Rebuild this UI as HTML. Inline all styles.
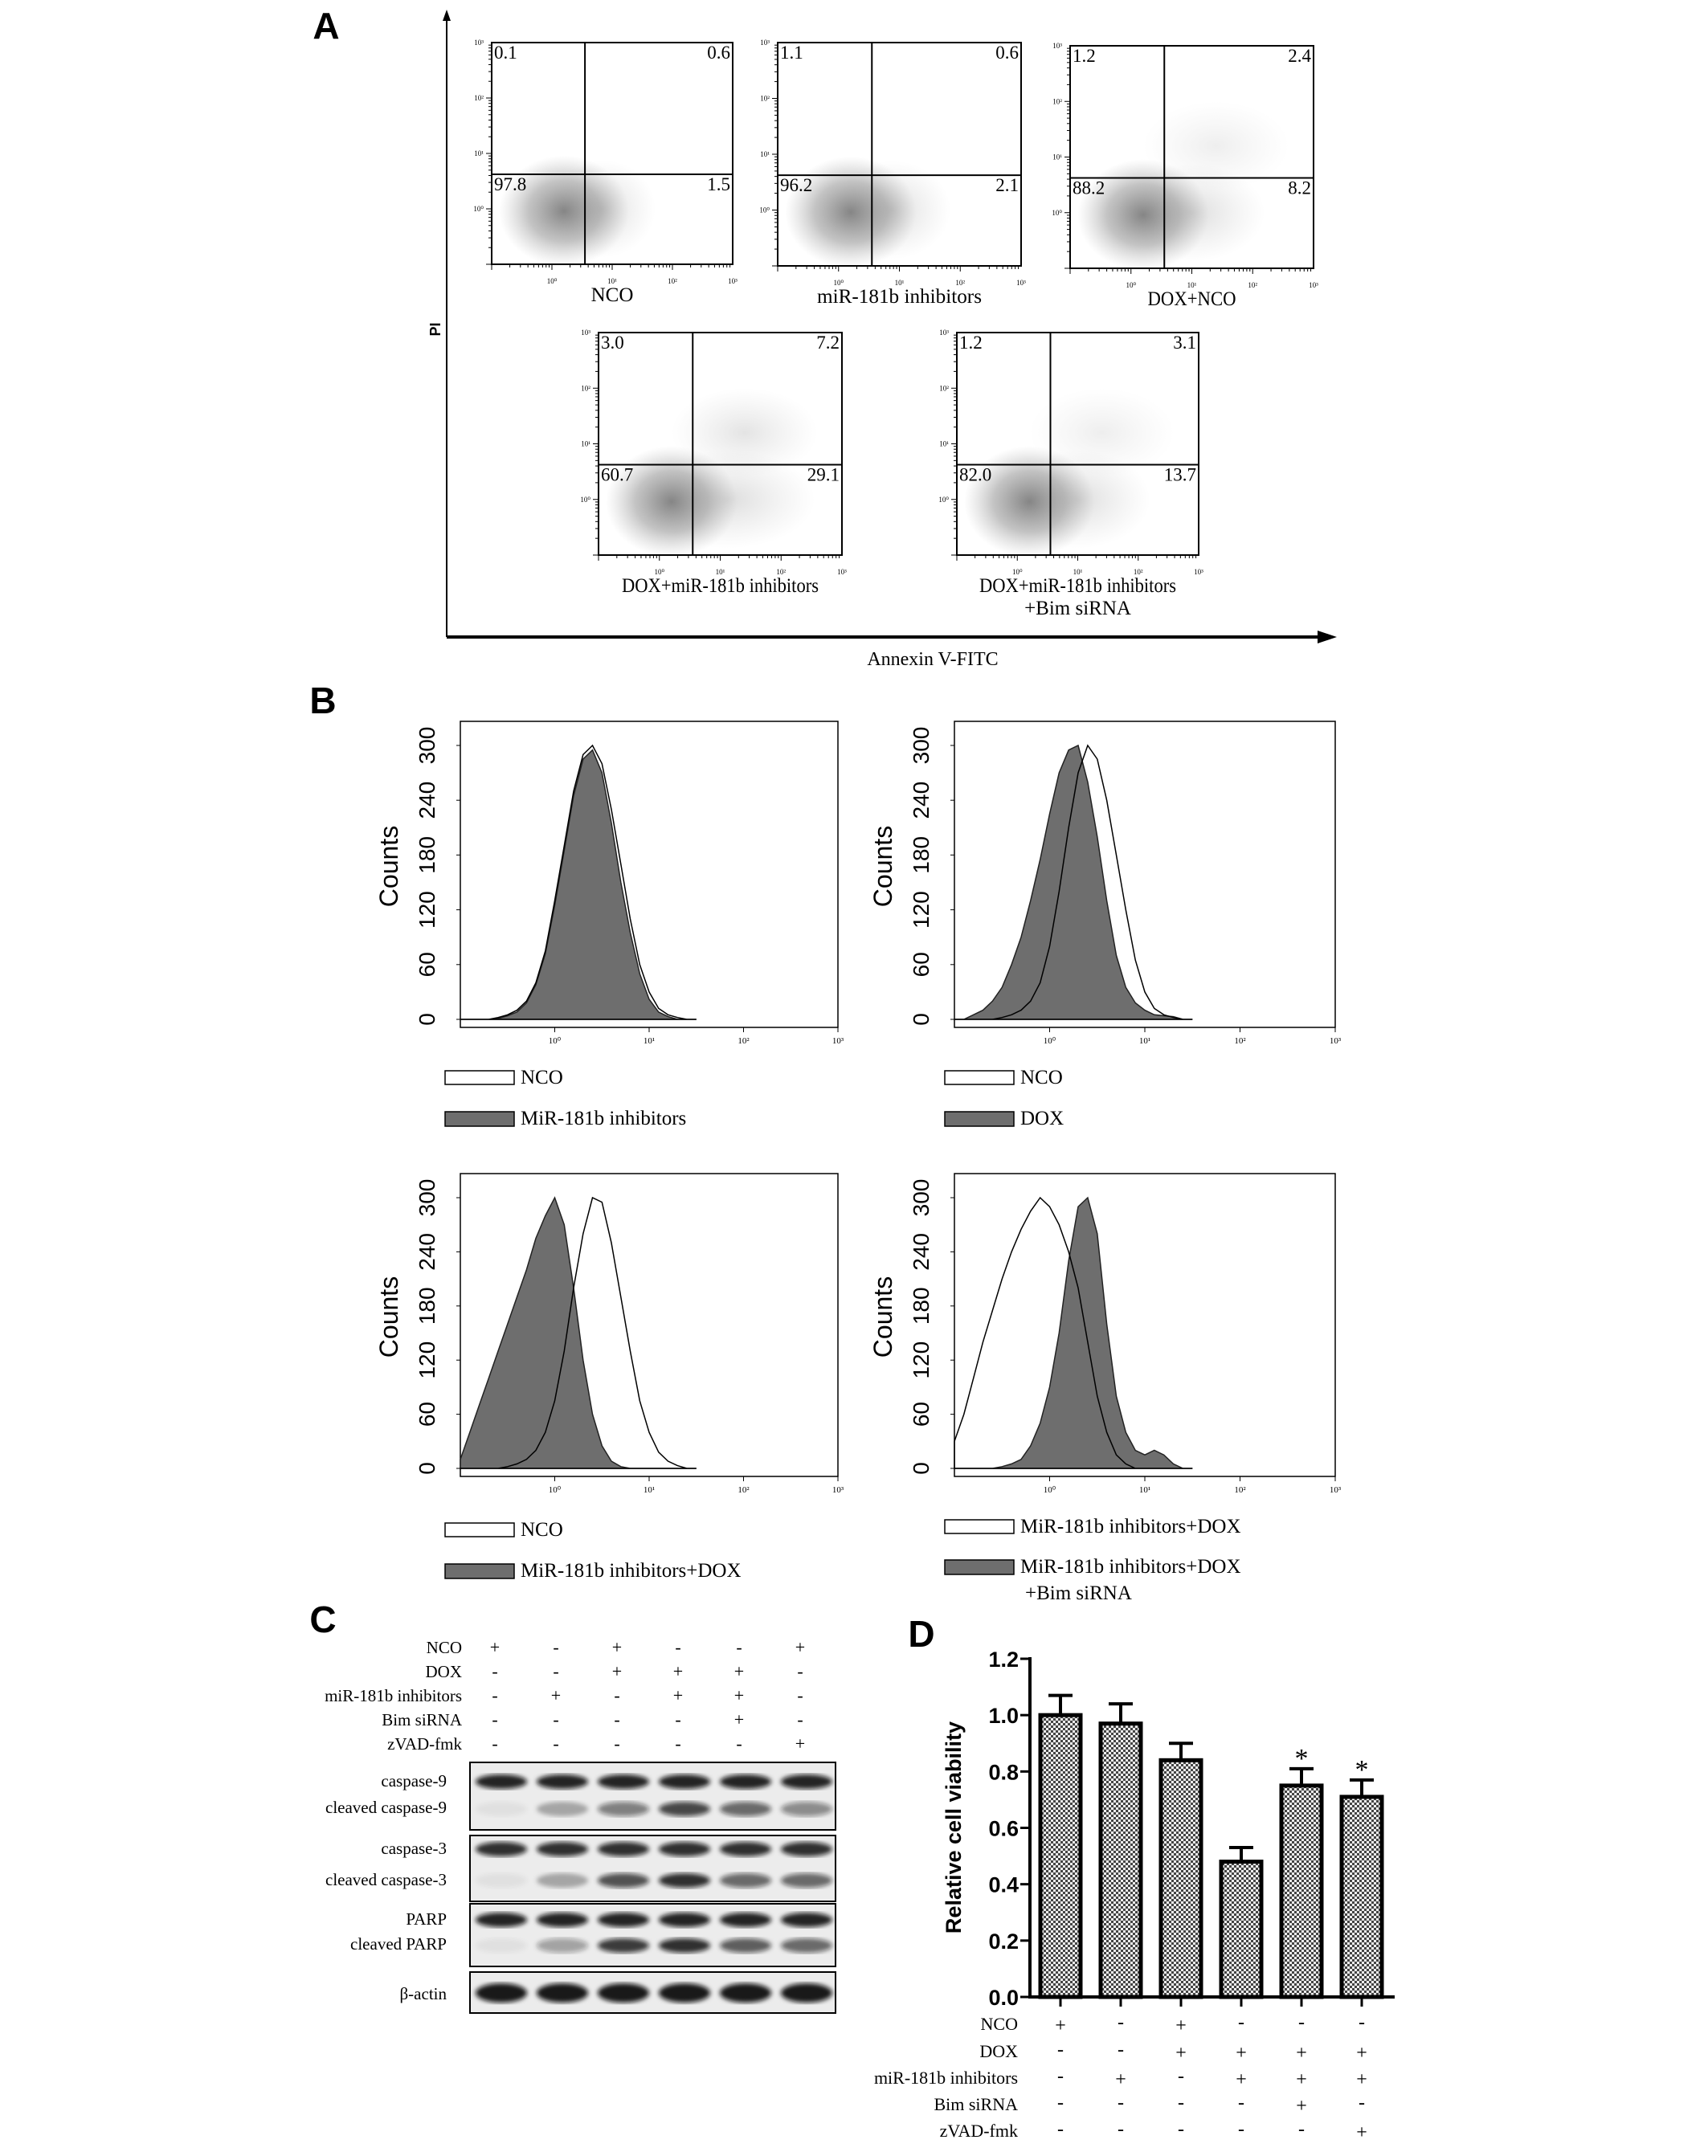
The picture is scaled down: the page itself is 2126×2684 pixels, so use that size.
<!DOCTYPE html>
<html><head><meta charset="utf-8"><style>
html,body{margin:0;padding:0;background:#fff;}
svg{display:block;}
</style></head>
<body>
<svg id="fig" width="2126" height="2684" viewBox="0 0 2126 2684" xmlns="http://www.w3.org/2000/svg">
<defs>
<pattern id="checker" width="6" height="6" patternUnits="userSpaceOnUse">
<rect width="6" height="6" fill="#eeeeee"/><rect width="3" height="3" fill="#444"/><rect x="3" y="3" width="3" height="3" fill="#444"/>
</pattern>
<filter id="blur3"><feGaussianBlur stdDeviation="3"/></filter>
<radialGradient id="cloud"><stop offset="0" stop-color="#333" stop-opacity="0.6"/><stop offset="0.55" stop-color="#555" stop-opacity="0.35"/><stop offset="1" stop-color="#888" stop-opacity="0"/></radialGradient>
<radialGradient id="sparse"><stop offset="0" stop-color="#777" stop-opacity="0.25"/><stop offset="1" stop-color="#999" stop-opacity="0"/></radialGradient>
</defs>
</svg>
<script>
// ---------- Panel D data ----------
const dCategories=['NCO','miR-181b inhibitors','DOX+NCO','DOX+miR-181b inhibitors','DOX+miR+Bim siRNA','DOX+miR+zVAD-fmk'];
const dValues=[1.00,0.97,0.84,0.48,0.75,0.71];
const dErrors=[0.07,0.07,0.06,0.05,0.06,0.06];
const dSignif=[0,0,0,0,1,1];
const dTicks=[0.0,0.2,0.4,0.6,0.8,1.0,1.2];
const treatRows=['NCO','DOX','miR-181b inhibitors','Bim siRNA','zVAD-fmk'];
const dSigns=[['+','-','+','-','-','-'],['-','-','+','+','+','+'],['-','+','-','+','+','+'],['-','-','-','-','+','-'],['-','-','-','-','-','+']];
const cSigns=[['+','-','+','-','-','+'],['-','-','+','+','+','-'],['-','+','-','+','+','-'],['-','-','-','-','+','-'],['-','-','-','-','-','+']];
// ---------- Panel C blot intensities ----------
const blotRows=['caspase-9','cleaved caspase-9','caspase-3','cleaved caspase-3','PARP','cleaved PARP','β-actin'];
const blotCasp9=[0.9,0.9,0.9,0.9,0.9,0.9];
const blotClCasp9=[0.05,0.3,0.5,0.75,0.6,0.45];
const blotCasp3=[0.85,0.85,0.85,0.85,0.85,0.85];
const blotClCasp3=[0.05,0.3,0.7,0.85,0.6,0.6];
const blotParp=[0.9,0.9,0.9,0.9,0.9,0.9];
const blotClParp=[0.05,0.35,0.8,0.85,0.65,0.6];
const blotActin=[0.95,0.95,0.95,0.95,0.95,0.95];
// ---------- Panel B histograms (log10 grid -1.0..1.5 step 0.1) ----------
const histLog=[-1.0,-0.9,-0.8,-0.7,-0.6,-0.5,-0.4,-0.3,-0.2,-0.1,0,0.1,0.2,0.3,0.4,0.5,0.6,0.7,0.8,0.9,1.0,1.1,1.2,1.3,1.4,1.5];
const h1White=[0,0,0,0,2,5,10,20,40,75,130,190,250,290,300,280,230,170,110,60,30,12,5,2,0,0];
const h1Gray=[0,0,0,0,1,4,8,18,38,72,125,185,245,285,295,270,215,150,95,50,22,8,3,0,0,0];
const h2White=[0,0,0,0,0,2,5,10,20,40,80,140,210,270,300,285,240,180,120,65,30,12,5,2,0,0];
const h2Gray=[0,0,5,10,20,35,60,90,130,175,225,270,295,300,260,200,130,70,35,18,10,5,4,3,0,0];
const h3White=[0,0,0,0,0,2,5,10,20,40,75,130,200,260,300,295,250,190,130,75,40,18,8,3,0,0];
const h3Gray=[10,40,70,100,130,160,190,220,255,280,300,270,200,120,60,25,8,2,0,0,0,0,0,0,0,0];
const h4White=[30,60,100,140,175,210,240,265,285,300,290,270,240,200,140,80,40,15,5,0,0,0,0,0,0,0];
const h4Gray=[0,0,0,0,0,2,5,10,25,50,90,150,230,290,300,260,160,80,40,20,15,20,15,5,0,0];
const histTicks=[0,60,120,180,240,300];
const histXTicks=['10⁰','10¹','10²','10³'];
// ---------- Panel A quadrant percentages ----------
const aUL=['0.1','1.1','1.2','3.0','1.2'];
const aUR=['0.6','0.6','2.4','7.2','3.1'];
const aLL=['97.8','96.2','88.2','60.7','82.0'];
const aLR=['1.5','2.1','8.2','29.1','13.7'];

const NS='http://www.w3.org/2000/svg';
const svg=document.getElementById('fig');
function el(tag,attrs,parent){const e=document.createElementNS(NS,tag);for(const k in attrs)e.setAttribute(k,attrs[k]);(parent||svg).appendChild(e);return e;}
function txt(s,attrs,parent){const e=el('text',attrs,parent);e.textContent=s;return e;}

// ===== Panel letters =====
[['A',406,48],['B',402,888],['C',402,2032],['D',1147,2050]].forEach(p=>{
 const t=txt(p[0],{x:p[1],y:p[2],'font-family':'Liberation Sans, sans-serif','font-weight':'bold','font-size':46,'text-anchor':'middle'});
 
 
});

// ===== Panel A =====
const gA=el('g',{});


const yAx=el('line',{x1:556,y1:793,x2:556,y2:16,stroke:'#000','stroke-width':2},gA);


el('path',{d:'M551,26 L556,12 L561,26 Z',fill:'#000'},gA);
const xAx=el('line',{x1:556,y1:793,x2:1645,y2:793,stroke:'#000','stroke-width':4},gA);


el('path',{d:'M1640,785 L1664,793 L1640,801 Z',fill:'#000'},gA);
const piL=txt('PI',{x:0,y:0,'font-family':'Liberation Sans, sans-serif','font-weight':'bold','font-size':18,'text-anchor':'middle',transform:'translate(548,410) rotate(-90)'},gA);


const anL=txt('Annexin V-FITC',{x:1161,y:828,'font-family':'Liberation Serif, serif','font-size':24,'text-anchor':'middle'},gA);



const scat=[
 {x:612,y:53,w:300,h:276,t:['NCO'],tw:[0],spread:0.1},
 {x:968,y:53,w:303,h:278,t:['miR-181b inhibitors'],tw:[205],spread:0.2},
 {x:1332,y:57,w:303,h:277,t:['DOX+NCO'],tw:[110],spread:0.5},
 {x:745,y:414,w:303,h:277,t:['DOX+miR-181b inhibitors'],tw:[245],spread:0.8},
 {x:1191,y:414,w:301,h:277,t:['DOX+miR-181b inhibitors','+Bim siRNA'],tw:[245,0],spread:0.5}
];
scat.forEach((p,i)=>{
 const g=el('g',{},gA);
 
 
 const vx=p.x+p.w*0.387, hy=p.y+p.h*0.594;
 el('ellipse',{cx:p.x+p.w*0.3,cy:p.y+p.h*0.76,rx:p.w*0.27,ry:p.h*0.25,fill:'url(#cloud)'},g);
 el('ellipse',{cx:p.x+p.w*(0.45+0.1*p.spread),cy:p.y+p.h*0.75,rx:p.w*(0.2+0.2*p.spread),ry:p.h*0.22,fill:'url(#sparse)'},g);
 if(p.spread>0.3) el('ellipse',{cx:p.x+p.w*0.6,cy:p.y+p.h*0.45,rx:p.w*0.3,ry:p.h*0.2,fill:'url(#sparse)',opacity:p.spread},g);
 el('rect',{x:p.x,y:p.y,width:p.w,height:p.h,fill:'none',stroke:'#000','stroke-width':2},g);
 el('line',{x1:vx,y1:p.y,x2:vx,y2:p.y+p.h,stroke:'#000','stroke-width':2},g);
 el('line',{x1:p.x,y1:hy,x2:p.x+p.w,y2:hy,stroke:'#000','stroke-width':2},g);
 for(let d=0;d<4;d++){
  for(let m=1;m<10;m++){
   const f=(d+Math.log10(m))/4; if(f>1)continue;
   const L=m===1?7:4;
   el('line',{x1:p.x+p.w*f,y1:p.y+p.h,x2:p.x+p.w*f,y2:p.y+p.h+L,stroke:'#000','stroke-width':1},g);
   el('line',{x1:p.x,y1:p.y+p.h*(1-f),x2:p.x-L,y2:p.y+p.h*(1-f),stroke:'#000','stroke-width':1},g);
  }
  txt('10'+['⁰','¹','²','³'][d],{x:p.x+p.w*(d+1)/4,y:p.y+p.h+24,'font-family':'Liberation Serif, serif','font-size':9,'text-anchor':'middle'},g);
  txt('10'+['⁰','¹','²','³'][d],{x:p.x-10,y:p.y+p.h*(1-(d+1)/4)+3,'font-family':'Liberation Serif, serif','font-size':9,'text-anchor':'end'},g);
 }
 const fs=23,ff='Liberation Serif, serif';
 txt(aUL[i],{x:p.x+3,y:p.y+20,'font-family':ff,'font-size':fs},g);
 txt(aUR[i],{x:p.x+p.w-3,y:p.y+20,'font-family':ff,'font-size':fs,'text-anchor':'end'},g);
 txt(aLL[i],{x:p.x+3,y:hy+20,'font-family':ff,'font-size':fs},g);
 txt(aLR[i],{x:p.x+p.w-3,y:hy+20,'font-family':ff,'font-size':fs,'text-anchor':'end'},g);
 p.t.forEach((s,k)=>{
  const at={x:p.x+p.w/2,y:p.y+p.h+46+k*28,'font-family':ff,'font-size':25,'text-anchor':'middle'};
  if(p.tw[k]){at.textLength=p.tw[k];at.lengthAdjust='spacingAndGlyphs';}
  const lt=txt(s,at,g);
  
  
 });
});

// ===== Panel B =====
const hists=[
 {x:573,y:898,w:470,h:381,white:h1White,gray:h1Gray,lw:'NCO',lg:['MiR-181b inhibitors'],lx:554,ly:1333},
 {x:1188,y:898,w:474,h:381,white:h2White,gray:h2Gray,lw:'NCO',lg:['DOX'],lx:1176,ly:1333},
 {x:573,y:1461,w:470,h:377,white:h3White,gray:h3Gray,lw:'NCO',lg:['MiR-181b inhibitors+DOX'],lx:554,ly:1896},
 {x:1188,y:1461,w:474,h:377,white:h4White,gray:h4Gray,lw:'MiR-181b inhibitors+DOX',lg:['MiR-181b inhibitors+DOX','+Bim siRNA'],lx:1176,ly:1892}
];
hists.forEach((p,i)=>{
 const g=el('g',{});
 
 
 const xs=v=>p.x+(v+1)/4*p.w;
 const ys=v=>p.y+p.h-10-v/300*(p.h-40);
 function pathOf(arr){let d='M'+xs(histLog[0])+','+ys(0);arr.forEach((v,k)=>{d+=' L'+xs(histLog[k]).toFixed(1)+','+ys(v).toFixed(1);});d+=' L'+xs(histLog[histLog.length-1])+','+ys(0)+' Z';return d;}
 el('rect',{x:p.x,y:p.y,width:p.w,height:p.h,fill:'#fff',stroke:'#000','stroke-width':1.5},g);
 const gp=el('path',{d:pathOf(p.gray),fill:'#6e6e6e',stroke:'#222','stroke-width':1.5},g);
 
 
 const wp=el('path',{d:pathOf(p.white),fill:'none',stroke:'#000','stroke-width':1.5},g);
 
 
 histTicks.forEach(t=>{
  const yy=ys(t);
  el('line',{x1:p.x,y1:yy,x2:p.x-5,y2:yy,stroke:'#000','stroke-width':1},g);
  txt(String(t),{x:0,y:0,'font-family':'Liberation Sans, sans-serif','font-size':28,'text-anchor':'middle',transform:'translate('+(p.x-32)+','+yy+') rotate(-90)'},g);
 });
 const cl=txt('Counts',{x:0,y:0,'font-family':'Liberation Sans, sans-serif','font-size':32,'text-anchor':'middle',transform:'translate('+(p.x-78)+','+(p.y+p.h/2-10)+') rotate(-90)'},g);
 
 
 histXTicks.forEach((s,k)=>{
  const xx=xs(k);
  el('line',{x1:xx,y1:p.y+p.h,x2:xx,y2:p.y+p.h+6,stroke:'#000','stroke-width':1},g);
  txt(s,{x:xx,y:p.y+p.h+20,'font-family':'Liberation Serif, serif','font-size':11,'text-anchor':'middle'},g);
 });
 const lgW=el('rect',{x:p.lx,y:p.ly,width:86,height:17,fill:'#fff',stroke:'#000','stroke-width':1.5},g);
 
 
 txt(p.lw,{x:p.lx+94,y:p.ly+16,'font-family':'Liberation Serif, serif','font-size':25},g);
 const gy=p.ly+(i===3?50:51);
 const lgG=el('rect',{x:p.lx,y:gy,width:86,height:18,fill:'#6e6e6e',stroke:'#000','stroke-width':1.5},g);
 
 
 p.lg.forEach((s,k)=>txt(s,{x:p.lx+(k?100:94),y:gy+16+k*33,'font-family':'Liberation Serif, serif','font-size':25},g));
});

// ===== Panel C =====
const gC=el('g',{});


const laneX=i=>616+i*76;
const cRowY=[2058,2088,2118,2148,2178];
treatRows.forEach((r,ri)=>{
 const t=txt(r,{x:575,y:cRowY[ri],'font-family':'Liberation Serif, serif','font-size':21,'text-anchor':'end'},gC);
 
 
 cSigns[ri].forEach((s,ci)=>txt(s,{x:laneX(ci),y:cRowY[ri],'font-family':'Liberation Serif, serif','font-size':22,'text-anchor':'middle'},gC));
});
const boxes=[[2194,84],[2285,82],[2370,78],[2455,51]];
boxes.forEach((b,k)=>{
 const r=el('rect',{x:585,y:b[0],width:455,height:b[1],fill:'#ececec',stroke:'#000','stroke-width':2},gC);
 
 
});
const bandSets=[[blotCasp9,2218],[blotClCasp9,2252],[blotCasp3,2302],[blotClCasp3,2341],[blotParp,2390],[blotClParp,2422],[blotActin,2481]];
bandSets.forEach((bs,k)=>{
 const t=txt(blotRows[k],{x:556,y:[2224,2257,2308,2347,2396,2427,2489][k],'font-family':'Liberation Serif, serif','font-size':21,'text-anchor':'end'},gC);
 
 
 bs[0].forEach((v,i)=>{
  const e=el('ellipse',{cx:laneX(i)+8,cy:bs[1],rx:32,ry:k===6?12:9,fill:'#111','fill-opacity':v,filter:'url(#blur3)'},gC);
  
  
 });
});

// ===== Panel D =====
const gD=el('g',{});


const yD=v=>2486-v/1.2*421;
const xD=i=>1320+i*75;
dValues.forEach((v,i)=>{
 const top=yD(v+dErrors[i]);
 el('line',{x1:xD(i),y1:yD(v),x2:xD(i),y2:top,stroke:'#000','stroke-width':4},gD);
 el('line',{x1:xD(i)-15,y1:top,x2:xD(i)+15,y2:top,stroke:'#000','stroke-width':4},gD);
 const b=el('rect',{x:xD(i)-25,y:yD(v),width:50,height:2486-yD(v),fill:'url(#checker)',stroke:'#000','stroke-width':5},gD);
 
 
 if(dSignif[i]){
  const s=txt('*',{x:xD(i),y:top-2,'font-family':'Liberation Serif, serif','font-size':34,'text-anchor':'middle'},gD);
  
  
 }
 el('line',{x1:xD(i),y1:2486,x2:xD(i),y2:2498,stroke:'#000','stroke-width':3},gD);
});
const yAxD=el('line',{x1:1282,y1:2063,x2:1282,y2:2488,stroke:'#000','stroke-width':4},gD);


const xAxD=el('line',{x1:1280,y1:2486,x2:1736,y2:2486,stroke:'#000','stroke-width':4},gD);


dTicks.forEach(t=>{
 el('line',{x1:1270,y1:yD(t),x2:1282,y2:yD(t),stroke:'#000','stroke-width':3},gD);
 const tl=txt(t.toFixed(1),{x:1268,y:yD(t)+10,'font-family':'Liberation Sans, sans-serif','font-weight':'bold','font-size':27,'text-anchor':'end'},gD);
 
 
});
const yt=txt('Relative cell viability',{x:0,y:0,'font-family':'Liberation Sans, sans-serif','font-weight':'bold','font-size':27,'text-anchor':'middle',transform:'translate(1196,2275) rotate(-90)'},gD);


const dRowY=[2527,2561,2594,2627,2660];
treatRows.forEach((r,ri)=>{
 const t=txt(r,{x:1267,y:dRowY[ri],'font-family':'Liberation Serif, serif','font-size':22,'text-anchor':'end'},gD);
 
 
 dSigns[ri].forEach((s,ci)=>txt(s,{x:xD(ci),y:dRowY[ri]+(s==='+'?2:-2),'font-family':'Liberation Serif, serif','font-size':24,'text-anchor':'middle'},gD));
});
</script>
</body></html>
